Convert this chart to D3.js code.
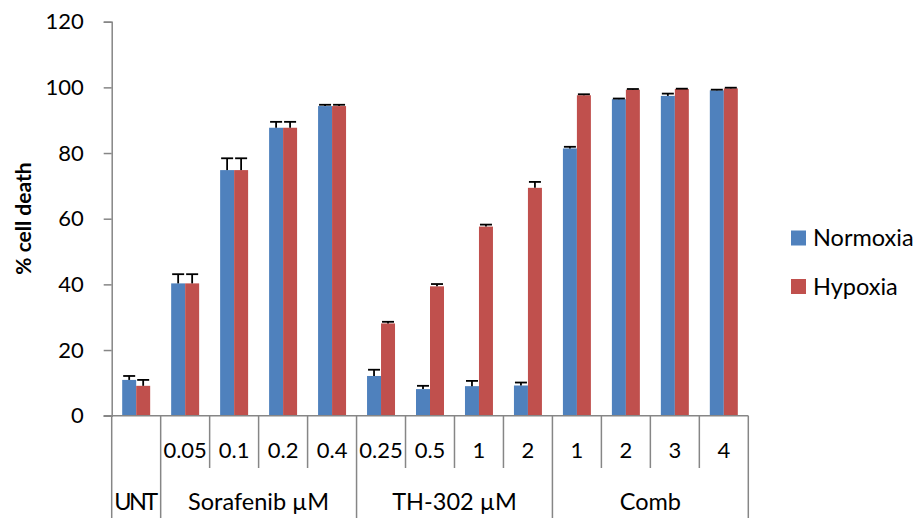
<!DOCTYPE html>
<html>
<head>
<meta charset="utf-8">
<script src="https://cdn.jsdelivr.net/npm/d3@7"></script>
<style>
  html, body { margin: 0; padding: 0; background: #fff; }
  svg { display: block; font-family: Lato, "Open Sans", sans-serif; }
</style>
</head>
<body>
<svg id="chart" width="923" height="528"></svg>
<script>
// ---- data ----
const subLabels = ["", "0.05", "0.1", "0.2", "0.4", "0.25", "0.5", "1", "2", "1", "2", "3", "4"];
const groupLabels = ["UNT", "Sorafenib µM", "TH-302 µM", "Comb"];
const groupSizes = [1, 4, 4, 4];
const seriesNames = ["Normoxia", "Hypoxia"];
const normoxia = [10.9, 40.3, 74.8, 87.7, 94.3, 12.1, 8.1, 9.0, 9.2, 81.4, 96.4, 97.4, 99.1];
const hypoxia = [9.1, 40.3, 74.8, 87.7, 94.3, 28.1, 39.4, 57.6, 69.4, 97.6, 99.3, 99.5, 99.7];
const normoxiaErr = [1.2, 2.8, 3.6, 1.8, 0.4, 1.9, 1.0, 1.6, 0.9, 0.5, 0.2, 0.7, 0.2];
const hypoxiaErr = [1.8, 2.8, 3.6, 1.8, 0.4, 0.5, 0.7, 0.6, 1.8, 0.3, 0.2, 0.1, 0.2];
const yTicks = [0, 20, 40, 60, 80, 100, 120];
const colors = ["#4F81BD", "#C0504D"];

(function () {
// ---- layout ----
const svg = d3.select("#chart");
const pLeft = 111.7, pRight = 748.3, pTop = 21.7, pBottom = 415.7;
const axisColor = "#868686";
const numSize = 22;
const wordSize = 23.5;

const idx = subLabels.map((d, i) => i);
const x0 = d3.scaleBand().domain(idx).range([pLeft, pRight]).padding(0);
const x1 = d3.scaleBand().domain(seriesNames).range([0, x0.bandwidth()]).paddingInner(0).paddingOuter(0.75);
const y = d3.scaleLinear().domain([0, 120]).range([pBottom, pTop]);

const values = [normoxia, hypoxia];
const errs = [normoxiaErr, hypoxiaErr];

// bars
const data = [];
idx.forEach(i => seriesNames.forEach((s, k) => data.push({ i, s, k, v: values[k][i], e: errs[k][i] })));

svg.append("g").selectAll("rect").data(data).join("rect")
  .attr("x", d => x0(d.i) + x1(d.s))
  .attr("y", d => y(d.v))
  .attr("width", x1.bandwidth())
  .attr("height", d => y(0) - y(d.v))
  .attr("fill", d => colors[d.k]);

// error bars (plus direction)
const eg = svg.append("g").attr("stroke", "#000").attr("stroke-width", 1.8);
data.forEach(d => {
  const cx = x0(d.i) + x1(d.s) + x1.bandwidth() / 2;
  eg.append("line").attr("x1", cx).attr("x2", cx).attr("y1", y(d.v)).attr("y2", y(d.v + d.e));
  eg.append("line").attr("x1", cx - 6).attr("x2", cx + 6).attr("y1", y(d.v + d.e)).attr("y2", y(d.v + d.e));
});

// y axis
const yAxis = d3.axisLeft(y).tickValues(yTicks).tickSize(8).tickPadding(20).tickSizeOuter(8);
const yg = svg.append("g").attr("transform", `translate(${pLeft},0)`).call(yAxis);
yg.select(".domain").attr("stroke", axisColor).attr("stroke-width", 1.5);
yg.selectAll(".tick line").attr("stroke", axisColor).attr("stroke-width", 1.5);
yg.selectAll(".tick text").attr("font-size", numSize).attr("font-family", "Lato").attr("fill", "#000");

// x axis line
svg.append("line").attr("x1", pLeft - 8).attr("x2", pRight).attr("y1", pBottom).attr("y2", pBottom)
  .attr("stroke", axisColor).attr("stroke-width", 1.5);

// separators
const groupStarts = [];
let acc = 0;
groupSizes.forEach(n => { groupStarts.push(acc); acc += n; });
const boundaryIdx = new Set(groupStarts.concat([acc]));
for (let b = 0; b <= idx.length; b++) {
  const xp = b < idx.length ? x0(b) : x0(idx.length - 1) + x0.bandwidth();
  const isGroup = boundaryIdx.has(b);
  svg.append("line").attr("x1", xp).attr("x2", xp).attr("y1", pBottom)
    .attr("y2", isGroup ? 518 : 468)
    .attr("stroke", axisColor).attr("stroke-width", 1.5);
}

// tier 1 labels
svg.append("g").selectAll("text").data(idx).join("text")
  .attr("x", i => x0(i) + x0.bandwidth() / 2)
  .attr("y", 450)
  .attr("dy", "0.35em")
  .attr("text-anchor", "middle")
  .attr("font-size", numSize)
  .text(i => subLabels[i]);

// tier 2 labels
svg.append("g").selectAll("text").data(groupLabels).join("text")
  .attr("x", (d, g) => {
    const a = x0(groupStarts[g]);
    const b = x0(groupStarts[g] + groupSizes[g] - 1) + x0.bandwidth();
    return (a + b) / 2;
  })
  .attr("y", 502)
  .attr("dy", "0.35em")
  .attr("text-anchor", "middle")
  .attr("font-size", wordSize)
  .attr("textLength", d => d === "UNT" ? 44 : null)
  .text(d => d);

// y title
svg.append("text")
  .attr("transform", `translate(31,218.5) rotate(-90)`)
  .attr("text-anchor", "middle")
  .attr("font-size", 21)
  .attr("font-weight", "bold")
  .text("% cell death");

// legend
const lg = svg.append("g");
seriesNames.forEach((s, k) => {
  const ly = 238 + k * 48.5;
  lg.append("rect").attr("x", 791).attr("y", ly - 7.5).attr("width", 15).attr("height", 15).attr("fill", colors[k]);
  lg.append("text").attr("x", 813).attr("y", ly).attr("dy", "0.35em").attr("font-size", wordSize).text(s);
});
})();
</script>
</body>
</html>
